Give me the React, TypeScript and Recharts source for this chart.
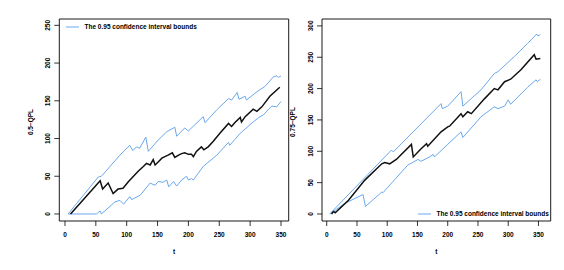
import React from "react";
import { LineChart, Line, XAxis, YAxis, ReferenceArea } from "recharts";

const FONT = '"Liberation Sans", Arial, Helvetica, sans-serif';
const BLUE = "#6aa8ec";

// Left panel: 0.5-QPL
const leftMedT = [9, 57, 61, 70, 78, 86, 94, 103, 111, 119, 127, 132, 138, 143, 146, 151, 157, 162, 167, 174, 178, 184, 189, 194, 200, 205, 208, 213, 221, 225, 232, 240, 251, 265, 270, 275, 284, 286, 292, 305, 311, 319, 332, 348];
const leftMedV = [0, 44, 33, 41, 27, 33, 34, 43, 50, 57, 63, 67, 65, 72, 65, 69, 74, 76, 78, 81, 75, 78, 80, 81, 79, 79, 76, 83, 89, 85, 89, 96, 107, 120, 116, 121, 128, 122, 129, 139, 136, 142, 156, 168];
const leftUpT = [5, 54, 59, 73, 89, 105, 110, 116, 121, 131, 135, 151, 165, 178, 181, 194, 200, 205, 224, 227, 246, 265, 270, 279, 282, 292, 294, 311, 324, 338, 343, 346, 350];
const leftUpV = [0, 49, 50, 63, 78, 91, 84, 89, 87, 102, 83, 98, 109, 115, 103, 114, 110, 114, 129, 121, 138, 153, 151, 161, 152, 156, 151, 162, 169, 182, 183, 181, 183];
const leftLoT = [5, 51, 57, 59, 81, 89, 95, 105, 108, 122, 138, 146, 151, 159, 165, 168, 176, 181, 189, 197, 200, 205, 208, 224, 246, 265, 267, 284, 305, 316, 321, 335, 343, 350];
const leftLoV = [0, 0, 4, 0, 16, 18, 13, 23, 19, 25, 41, 38, 43, 42, 45, 36, 43, 37, 45, 50, 45, 47, 45, 63, 78, 95, 91, 107, 122, 129, 131, 143, 142, 149];

// Right panel: 0.75-QPL
const rightMedT = [8, 11, 14, 36, 63, 91, 96, 104, 115, 140, 143, 156, 165, 167, 189, 200, 203, 222, 225, 233, 239, 261, 277, 283, 294, 304, 321, 343, 346, 353];
const rightMedV = [0, 4, 2, 22, 54, 80, 82, 80, 87, 111, 91, 104, 112, 108, 131, 139, 140, 160, 155, 163, 160, 184, 200, 198, 211, 215, 230, 254, 247, 248];
const rightUpT = [5, 107, 110, 189, 191, 200, 222, 225, 255, 277, 283, 310, 332, 347, 349, 353];
const rightUpV = [0, 102, 99, 176, 168, 172, 195, 172, 198, 224, 227, 251, 272, 287, 284, 286];
const rightLoT = [5, 14, 30, 60, 64, 91, 93, 134, 151, 156, 170, 176, 178, 200, 222, 225, 255, 277, 283, 294, 300, 304, 332, 346, 348, 353];
const rightLoV = [0, 6, 17, 31, 12, 35, 34, 78, 87, 84, 91, 95, 91, 111, 131, 122, 155, 171, 168, 172, 182, 175, 202, 214, 211, 215];

const xTicks = [0, 50, 100, 150, 200, 250, 300, 350];
const leftYTicks = [0, 50, 100, 150, 200, 250];
const rightYTicks = [0, 50, 100, 150, 200, 250, 300];
const legendText = "The 0.95 confidence interval bounds";

const zip = (t: number[], v: number[]) => t.map((tt, i) => ({ t: tt, v: v[i] }));

const txt = { fontFamily: FONT, fontSize: 6.5, fontWeight: "bold" as const, fill: "#000" };

const XTick = (p: any) => (
  <text x={p.x} y={p.y + 7} textAnchor="middle" {...txt}>
    {p.payload.value}
  </text>
);
const YTick = (p: any) => (
  <text x={p.x} y={p.y} textAnchor="middle" transform={`rotate(-90 ${p.x} ${p.y})`} {...txt}>
    {p.payload.value}
  </text>
);

type PanelProps = {
  marginLeft: number;
  marginRight: number;
  xDomain: [number, number];
  yDomain: [number, number];
  yTicks: number[];
  med: { t: number; v: number }[];
  up: { t: number; v: number }[];
  lo: { t: number; v: number }[];
  ylab: string;
  ylabX: number;
};

const Panel = (pr: PanelProps) => {
  const plotL = pr.marginLeft + 40;
  const plotR = 564 - pr.marginRight;
  const cx = (plotL + plotR) / 2;
  return (
    <LineChart
      width={564}
      height={270}
      margin={{ top: 19, right: pr.marginRight, bottom: 0, left: pr.marginLeft }}
      style={{ position: "absolute", left: 0, top: 0 }}
    >
      <XAxis
        type="number"
        dataKey="t"
        domain={pr.xDomain}
        ticks={xTicks}
        allowDataOverflow
        height={49}
        axisLine={false}
        tickLine={{ stroke: "#000", strokeWidth: 0.8 }}
        tickSize={5}
        tickMargin={4}
        tick={<XTick />}
        interval={0}
        label={(p: any) => (
          <text x={cx} y={254} textAnchor="middle" {...txt}>
            t
          </text>
        )}
      />
      <YAxis
        type="number"
        dataKey="v"
        domain={pr.yDomain}
        ticks={pr.yTicks}
        allowDataOverflow
        width={40}
        axisLine={false}
        tickLine={{ stroke: "#000", strokeWidth: 0.8 }}
        tickSize={5}
        tickMargin={4}
        tick={<YTick />}
        interval={0}
        label={(p: any) => (
          <text
            x={pr.ylabX}
            y={122}
            textAnchor="middle"
            transform={`rotate(-90 ${pr.ylabX} 122)`}
            {...txt}
          >
            {pr.ylab}
          </text>
        )}
      />
      <ReferenceArea
        x1={pr.xDomain[0]}
        x2={pr.xDomain[1]}
        y1={pr.yDomain[0]}
        y2={pr.yDomain[1]}
        fill="none"
        fillOpacity={0}
        stroke="#000"
        strokeWidth={0.9}
        ifOverflow="visible"
      />
      <Line data={pr.up} dataKey="v" stroke={BLUE} strokeWidth={1} dot={false} isAnimationActive={false} />
      <Line data={pr.lo} dataKey="v" stroke={BLUE} strokeWidth={1} dot={false} isAnimationActive={false} />
      <Line data={pr.med} dataKey="v" stroke="#111" strokeWidth={1.5} dot={false} isAnimationActive={false} />
    </LineChart>
  );
};

const LegendBox = ({ left, top }: { left: number; top: number }) => (
  <svg width={140} height={10} style={{ position: "absolute", left, top, overflow: "visible" }}>
    <line x1={0} y1={5} x2={13} y2={5} stroke={BLUE} strokeWidth={1} />
    <text x={18.5} y={7.4} {...txt}>
      {legendText}
    </text>
  </svg>
);

export default function App() {
  return (
    <div style={{ position: "absolute", left: 0, top: 0, width: 564, height: 270, background: "#fff" }}>
      <Panel
        marginLeft={19.3}
        marginRight={275.3}
        xDomain={[-9.2, 362.5]}
        yDomain={[-9.3, 258.4]}
        yTicks={leftYTicks}
        med={zip(leftMedT, leftMedV)}
        up={zip(leftUpT, leftUpV)}
        lo={zip(leftLoT, leftLoV)}
        ylab="0.5−QPL"
        ylabX={32.5}
      />
      <Panel
        marginLeft={282}
        marginRight={13.3}
        xDomain={[-7.8, 370.2]}
        yDomain={[-11.2, 311]}
        yTicks={rightYTicks}
        med={zip(rightMedT, rightMedV)}
        up={zip(rightUpT, rightUpV)}
        lo={zip(rightLoT, rightLoV)}
        ylab="0.75−QPL"
        ylabX={295}
      />
      <LegendBox left={66} top={21.7} />
      <LegendBox left={417.7} top={208.7} />
    </div>
  );
}
